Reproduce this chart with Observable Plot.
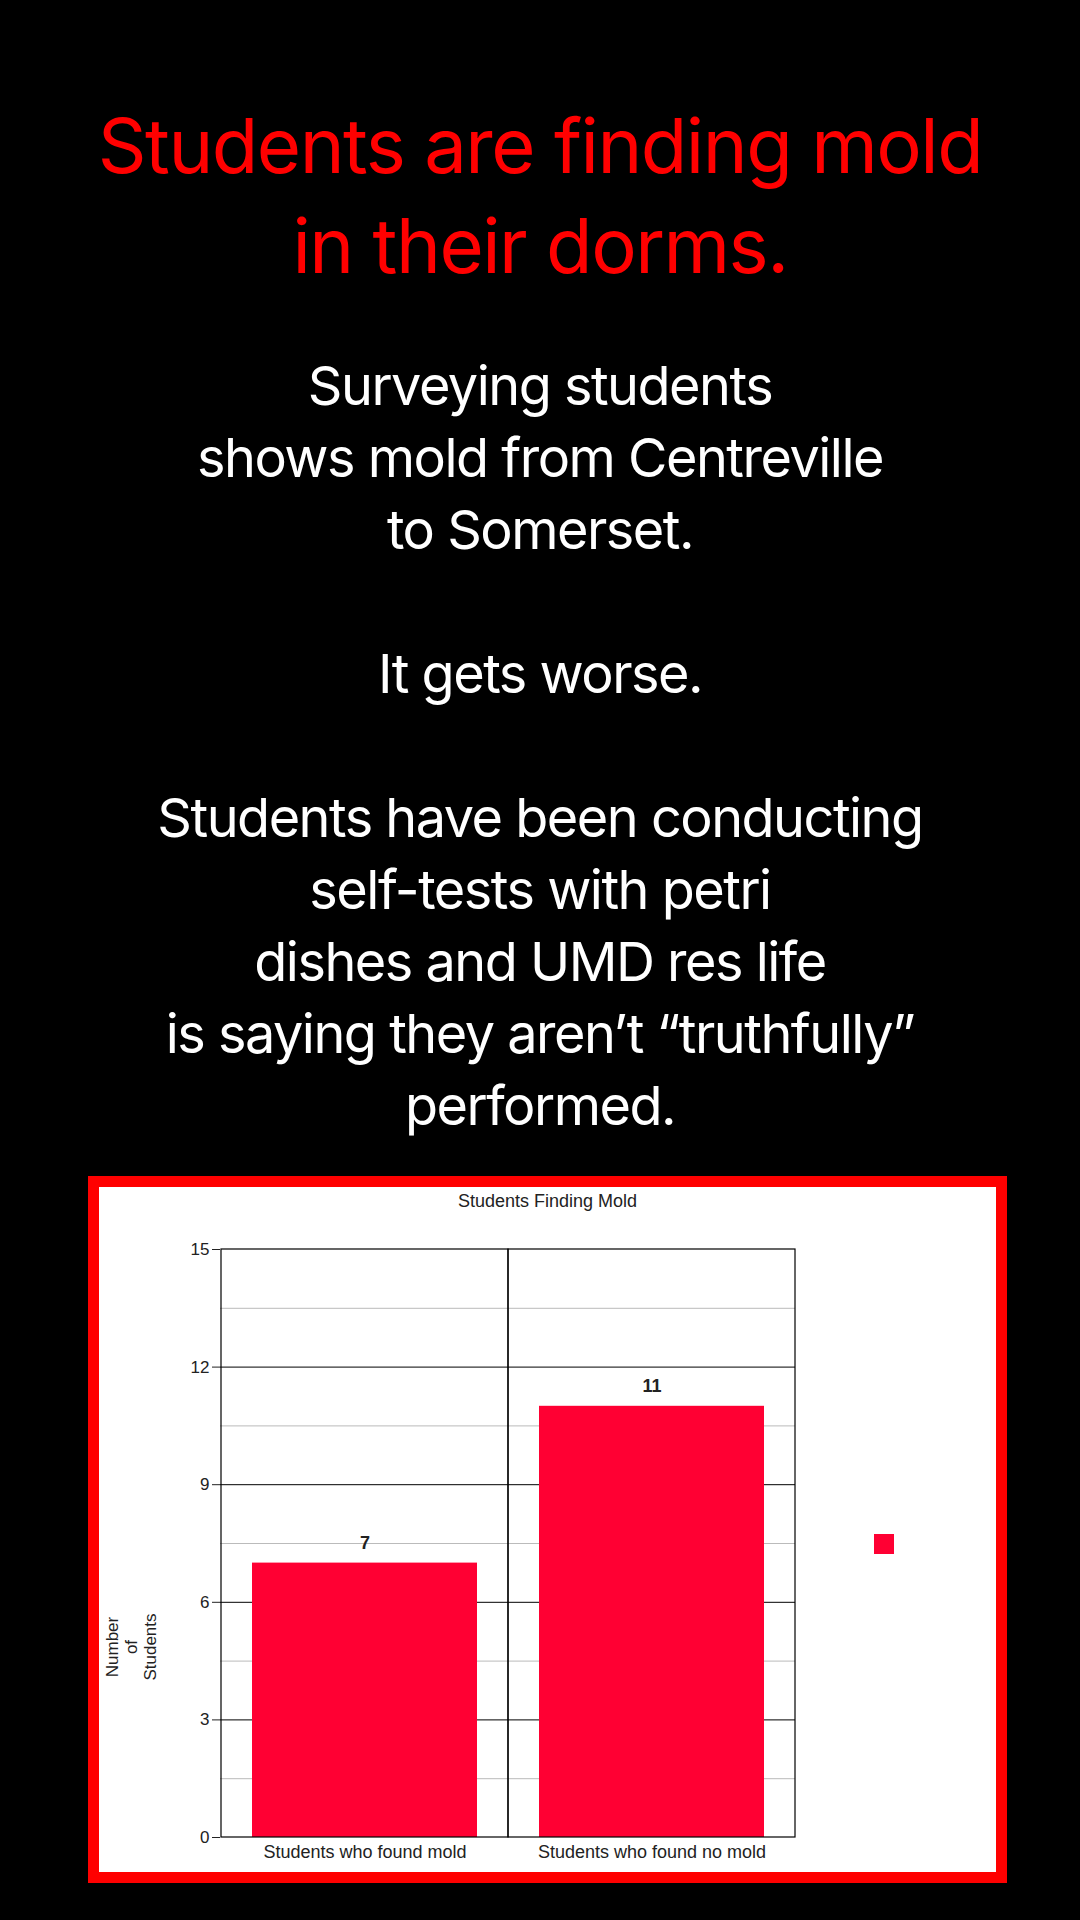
<!DOCTYPE html>
<html><head><meta charset="utf-8">
<script src="https://cdn.jsdelivr.net/npm/d3@7"></script>
<script src="https://cdn.jsdelivr.net/npm/@observablehq/plot@0.6"></script>
<style>
body{margin:0;background:#000;width:1080px;height:1920px;position:relative;overflow:hidden;font-family:Inter,"Noto Sans",sans-serif}
.t{position:absolute;left:0;width:1080px;text-align:center;letter-spacing:-1.5px}
#title{top:95px;color:#ff0000;font-size:76px;line-height:100px}
#sub{top:350px;color:#fff;font-size:54px;line-height:72px}
#frame{position:absolute;left:88px;top:1176px;width:897px;height:685px;border:11px solid #ff0000;background:#fff}
#chart{position:absolute;left:0;top:0}
#ylab{position:absolute;left:4px;top:510px;transform:rotate(-90deg);transform-origin:0 0;font-family:"Liberation Sans",Arial;font-size:17px;line-height:19px;text-align:center;width:100px;color:#222}
#leg{position:absolute;left:775px;top:347px;width:20px;height:20px;background:#ff0033}
#ctitle{position:absolute;left:0;width:897px;top:4px;text-align:center;font-family:"Liberation Sans",Arial;font-size:18px;color:#222}
</style></head><body>
<div class="t" id="title">Students are finding mold<br>in their dorms.</div>
<div class="t" id="sub">Surveying students<br>shows mold from Centreville<br>to Somerset.<br><br>It gets worse.<br><br>Students have been conducting<br>self-tests with petri<br>dishes and UMD res life<br>is saying they aren’t “truthfully”<br>performed.</div>
<div id="frame"><div id="chart"></div><div id="ctitle">Students Finding Mold</div><div id="ylab">Number<br>of<br>Students</div><div id="leg"></div></div>
<script>
const categories = ["Students who found mold","Students who found no mold"];
const counts = [7, 11];
const yTicks = [0,3,6,9,12,15];
const minorGrid = [1.5,4.5,7.5,10.5,13.5];
const majorGrid = [3,6,9,12];
const data = categories.map((c,i)=>({cat:c,n:counts[i]}));
const chart = Plot.plot({
  width:897, height:685,
  marginLeft:121, marginRight:201, marginTop:62, marginBottom:35,
  style:{fontFamily:"Liberation Sans, Arial", fontSize:"16px", color:"#222", background:"#fff"},
  x:{domain:categories, padding:0, label:null},
  y:{domain:[0,15], label:null},
  marks:[
    Plot.ruleY(minorGrid,{stroke:"#bbb"}),
    Plot.ruleY(majorGrid,{stroke:"#000"}),
    Plot.barY(data,{x:"cat",y:"n",fill:"#ff0033",insetLeft:31,insetRight:31}),
    Plot.barY(data,{x:"cat",y:()=>15,fill:"none",stroke:"#000",strokeWidth:1.2}),
    Plot.text(data,{x:"cat",y:"n",text:d=>String(d.n),dy:-20,fontWeight:"bold",fontSize:18}),
    Plot.axisY({ticks:yTicks,tickSize:8,tickPadding:3,fontSize:17}),
    Plot.axisX({tickSize:0,tickPadding:8,fontSize:18})
  ]
});
document.getElementById("chart").appendChild(chart);
</script>
</body></html>
